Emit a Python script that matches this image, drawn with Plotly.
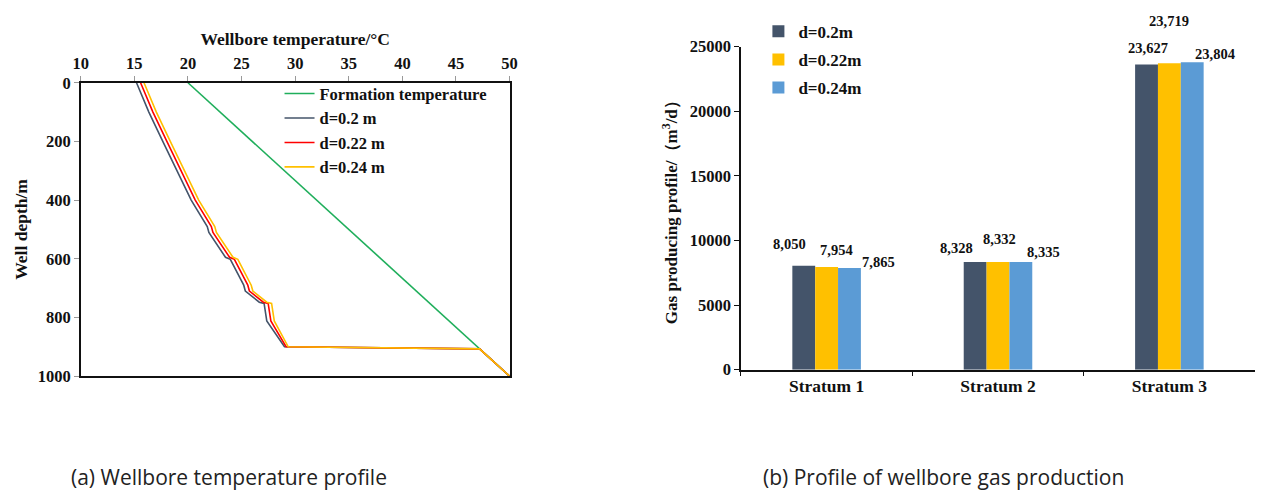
import plotly.graph_objects as go

W, H = 1268, 497

# ---------------- Data: (a) wellbore temperature ----------------
form_depth = [0, 907, 1000]
form_temp = [20.0, 47.2, 50.0]

well_depth = [0, 50, 100, 200, 300, 400, 490, 510, 595, 602, 690, 710, 748, 752, 800, 812, 900, 907, 1000]
temp_d020 = [15.2, 15.75, 16.35, 17.65, 18.95, 20.3, 21.8, 21.95, 23.5, 23.95, 25.2, 25.35, 26.65, 27.1, 27.3, 27.35, 29.0, 47.2, 50.0]
temp_d022 = [15.58, 16.13, 16.73, 18.03, 19.33, 20.68, 22.18, 22.33, 23.88, 24.33, 25.58, 25.73, 27.03, 27.48, 27.68, 27.73, 29.15, 47.2, 50.0]
temp_d024 = [15.9, 16.45, 17.05, 18.35, 19.65, 21.0, 22.5, 22.65, 24.2, 24.65, 25.9, 26.05, 27.35, 27.8, 28.0, 28.05, 29.35, 47.2, 50.0]

line_names = ["Formation temperature", "d=0.2 m", "d=0.22 m", "d=0.24 m"]

# ---------------- Data: (b) gas production ----------------
strata = ["Stratum 1", "Stratum 2", "Stratum 3"]
gas_d020 = [8050, 8328, 23627]
gas_d022 = [7954, 8332, 23719]
gas_d024 = [7865, 8335, 23804]
bar_names = ["d=0.2m", "d=0.22m", "d=0.24m"]

captions = ["(a) Wellbore temperature profile", "(b) Profile of wellbore gas production"]

# ---------------- Styles ----------------
SERIF = "Liberation Serif"
C_GREEN = "#1FAE5B"
C_DARK = "#44546A"
C_RED = "#FF0000"
C_YEL = "#FFC000"
C_BLUE = "#5B9BD5"

fig = go.Figure()

fig.add_trace(go.Scatter(x=form_temp, y=form_depth, mode="lines", name=line_names[0],
                         line=dict(color=C_GREEN, width=1.6), xaxis="x", yaxis="y",
                         legend="legend"))
for name, xs, col in [
    (line_names[1], temp_d020, C_DARK),
    (line_names[2], temp_d022, C_RED),
    (line_names[3], temp_d024, C_YEL),
]:
    fig.add_trace(go.Scatter(x=xs, y=well_depth, mode="lines", name=name,
                             line=dict(color=col, width=1.6), xaxis="x", yaxis="y",
                             legend="legend"))

for i, (name, vals, col) in enumerate([
    (bar_names[0], gas_d020, C_DARK),
    (bar_names[1], gas_d022, C_YEL),
    (bar_names[2], gas_d024, C_BLUE),
]):
    fig.add_trace(go.Bar(x=strata, y=vals, name=name, marker=dict(color=col, line=dict(width=0)),
                         xaxis="x2", yaxis="y2", legend="legend2", legendgroup=f"g{i}"))

# data labels (custom placement like the original)
label_shift = {  # (xshift px relative to bar centre, yshift px above bar top)
    0: [(-14, 22), (10, 17), (29, 6)],
    1: [(-19, 14), (2, 23), (23, 10)],
    2: [(1, 16), (0, 42), (23, 8)],
}
bar_off = [-0.1325, 0.0, 0.1325]
series_vals = [gas_d020, gas_d022, gas_d024]
annotations = []
for ci in range(len(strata)):
    for si in range(3):
        v = series_vals[si][ci]
        dx, dy = label_shift[ci][si]
        annotations.append(dict(
            x=ci + bar_off[si], y=v, xref="x2", yref="y2", text=f"{v:,}",
            showarrow=False, xshift=dx, yshift=dy, yanchor="middle",
            font=dict(family=SERIF, size=14.5, color="#111", weight="bold")))

cap_font = dict(family="Open Sans", size=21, color="#222")
annotations.append(dict(x=62 / W, y=1 - 487 / H, xref="paper", yref="paper", text=captions[0],
                        showarrow=False, xanchor="left", yanchor="middle", font=cap_font))
annotations.append(dict(x=763 / W, y=1 - 487 / H, xref="paper", yref="paper", text=captions[1],
                        showarrow=False, xanchor="left", yanchor="middle", font=cap_font))

tickfont = dict(family=SERIF, size=16.5, color="#111", weight="bold")
titlefont = dict(family=SERIF, size=17.5, color="#111", weight="bold")

fig.update_layout(
    width=W, height=H,
    margin=dict(l=0, r=0, t=0, b=0),
    paper_bgcolor="white", plot_bgcolor="white",
    barmode="group", bargap=0.6, bargroupgap=0,
    annotations=annotations,
    xaxis=dict(domain=[73.7 / W, 508 / W], anchor="y", side="top", range=[10, 50], dtick=5,
               showgrid=False, zeroline=False, showline=True, mirror=True, linecolor="#111",
               linewidth=1.5, ticks="outside", ticklen=5, tickcolor="#999", tickfont=tickfont,
               title=dict(text="Wellbore temperature/°C", font=titlefont, standoff=4)),
    yaxis=dict(domain=[1 - 381.7 / H, 1 - 76.7 / H], anchor="x", range=[1000, 0], dtick=200,
               showgrid=False, zeroline=False, showline=True, mirror=True, linecolor="#111",
               linewidth=1.5, ticks="outside", ticklen=5, tickcolor="#999", tickfont=tickfont,
               title=dict(text="Well depth/m", font=titlefont, standoff=6)),
    xaxis2=dict(domain=[742.3 / W, 1263 / W], anchor="y2", type="category",
                showgrid=False, zeroline=False, showline=True, linecolor="#111", linewidth=1.5,
                ticks="outside", tickson="boundaries", ticklen=5, tickcolor="#111",
                tickfont=dict(family=SERIF, size=17.5, color="#111", weight="bold")),
    yaxis2=dict(domain=[1 - 375 / H, 1 - 39.2 / H], anchor="x2", range=[0, 25000], dtick=5000,
                tickformat="d", showgrid=False, zeroline=False, showline=True, linecolor="#111",
                linewidth=1.5, ticks="outside", ticklen=5, tickcolor="#111", tickfont=tickfont,
                title=dict(text="Gas producing profile/（m<sup>3</sup>/d）",
                           font=dict(family=SERIF, size=17, color="#111", weight="bold"), standoff=8)),
    legend=dict(x=275 / W, y=1 - 70 / H, xanchor="left", yanchor="top",
                bgcolor="rgba(0,0,0,0)", tracegroupgap=0,
                font=dict(family=SERIF, size=16.5, color="#111", weight="bold")),
    legend2=dict(x=760 / W, y=1 - 5 / H, xanchor="left", yanchor="top",
                 bgcolor="rgba(0,0,0,0)", tracegroupgap=3, itemwidth=30,
                 font=dict(family=SERIF, size=17, color="#111", weight="bold")),
    showlegend=True,
)

fig.write_html("out.html")
